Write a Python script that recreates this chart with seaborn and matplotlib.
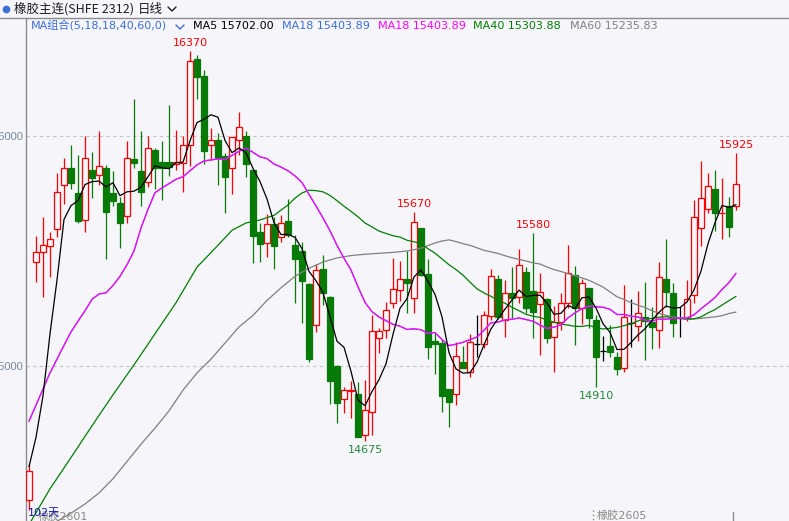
import numpy as np
import pandas as pd
import matplotlib
matplotlib.use("Agg")
import matplotlib.pyplot as plt
import seaborn as sns
from matplotlib.lines import Line2D

# daily candles, 102 days
open_ = [14417, 15451, 15494, 15522, 15596, 15786, 15861, 15751, 15633, 15851,
         15829, 15861, 15754, 15707, 15651, 15900, 15848, 15799, 15939, 15886,
         15886, 15880, 15881, 15959, 16333, 16261, 15959, 15983, 15913, 15859,
         15983, 16000, 15852, 15583, 15533, 15617, 15559, 15629, 15526, 15500,
         15357, 15177, 15420, 15300, 15000, 14855, 14893, 14878, 14700, 14799,
         15120, 15157, 15272, 15330, 15377, 15297, 15599, 15399, 15109, 15101,
         14899, 14877, 15019, 14975, 15096, 15096, 15219, 15377, 15200, 15316,
         15299, 15407, 15326, 15268, 15290, 15125, 15193, 15275, 15396, 15251,
         15338, 15200, 15065, 15087, 15038, 14990, 15186, 15175, 15212, 15193,
         15155, 15377, 15316, 15207, 15207, 15309, 15599, 15681, 15768, 15664,
         15697, 15697]
high = [14580, 15565, 15649, 15583, 15841, 15904, 15959, 15916, 15999, 15930,
        16022, 15872, 15848, 15736, 15978, 16159, 16022, 15999, 15949, 15978,
        16135, 16026, 15999, 16370, 16352, 16287, 16033, 16012, 15925, 15997,
        16104, 16023, 15855, 15623, 15661, 15649, 15657, 15725, 15570, 15541,
        15360, 15442, 15483, 15303, 15003, 14910, 14936, 14932, 14939, 15222,
        15164, 15280, 15468, 15457, 15501, 15670, 15600, 15464, 15149, 15116,
        14902, 15106, 15087, 15138, 15222, 15239, 15420, 15396, 15374, 15432,
        15507, 15432, 15580, 15403, 15295, 15262, 15316, 15526, 15436, 15377,
        15340, 15222, 15130, 15178, 15062, 15352, 15291, 15326, 15364, 15258,
        15451, 15551, 15359, 15258, 15374, 15722, 15891, 15838, 15852, 15819,
        15736, 15925]
low = [14375, 15367, 15301, 15388, 15562, 15703, 15771, 15620, 15584, 15732,
       15787, 15467, 15697, 15514, 15623, 15862, 15697, 15780, 15768, 15722,
       15826, 15852, 15758, 15870, 16159, 15878, 15896, 15788, 15667, 15746,
       15917, 15820, 15449, 15454, 15472, 15423, 15538, 15562, 15275, 15186,
       15019, 15149, 15265, 14833, 14754, 14794, 14772, 14690, 14675, 14700,
       15055, 15120, 15251, 15284, 15229, 15232, 15390, 15029, 14964, 14801,
       14736, 14830, 14990, 14954, 15041, 15077, 15200, 15203, 15128, 15207,
       15272, 15229, 15123, 15048, 15101, 14975, 15157, 15251, 15091, 15183,
       15164, 14910, 15023, 15038, 14961, 14975, 15084, 15109, 15026, 15072,
       15077, 15258, 15125, 15128, 15196, 15272, 15522, 15664, 15588, 15554,
       15562, 15678]
close = [14543, 15496, 15525, 15551, 15755, 15859, 15797, 15630, 15903, 15819,
         15871, 15671, 15719, 15623, 15903, 15884, 15758, 15946, 15859, 15862,
         15865, 15886, 15959, 16325, 16258, 15936, 15983, 15906, 15820, 15994,
         16038, 15878, 15567, 15532, 15616, 15523, 15620, 15570, 15467, 15371,
         15029, 15417, 15316, 14936, 14841, 14896, 14896, 14693, 14809, 15152,
         15151, 15243, 15333, 15377, 15359, 15625, 15396, 15084, 15094, 14870,
         14845, 15043, 14993, 15106, 15096, 15222, 15391, 15212, 15316, 15294,
         15438, 15251, 15236, 15320, 15123, 15193, 15275, 15406, 15251, 15359,
         15207, 15038, 15065, 15062, 14986, 15212, 15186, 15229, 15197, 15168,
         15388, 15320, 15188, 15207, 15290, 15649, 15729, 15783, 15664, 15667,
         15603, 15790]

# moving average values before the window is long enough
ma5_head = [14562, 14690, 14870, 15140]
ma18_head = [14760, 14830, 14900, 14970, 15030, 15090, 15148, 15195, 15240,
             15290, 15313, 15318, 15350, 15390, 15440, 15500, 15600]
ma40_head_idx = [0, 3, 6, 9, 12, 15, 18, 21, 24, 27, 29, 31, 33, 35, 37, 38]
ma40_head = [14310, 14466, 14602, 14740, 14875, 15005, 15140, 15275, 15430,
             15525, 15590, 15622, 15635, 15655, 15700, 15730]
ma60_head_idx = list(range(0, 59, 2))
ma60_head = [14250, 14290, 14325, 14360, 14400, 14448, 14510, 14585, 14660, 14730,
             14805, 14895, 14970, 15030, 15100, 15170, 15220, 15285, 15340, 15390,
             15425, 15452, 15470, 15480, 15486, 15490, 15494, 15500, 15512, 15535]

# labelled extremes: (day, price, above)
marks = [(23, 16370, True), (55, 15670, True), (72, 15580, True),
         (101, 15925, True), (48, 14675, False), (81, 14910, False)]

BG = "#f5f5fa"
RED = "#ff0000"
GREEN = "#077a07"
W, H = 789, 521

sns.set_theme(style="white")
plt.rcParams["font.family"] = ["DejaVu Sans", "Noto Sans CJK SC"]

fig = plt.figure(figsize=(W / 100, H / 100), dpi=100, facecolor=BG)
ax = fig.add_axes([26 / W, 0, (W - 26) / W, (H - 18) / H])
ax.set_facecolor(BG)

df = pd.DataFrame({"day": np.arange(len(close)), "open": open_, "high": high,
                   "low": low, "close": close})
x = df["day"].values
o, c = df["open"].values, df["close"].values
up, down, flat = c > o, c < o, c == o
wick_col = np.where(up, RED, np.where(down, GREEN, "black"))

ax.vlines(x, df["low"], df["high"], colors=wick_col, lw=0.9, zorder=2)
ax.bar(x[up], (c - o)[up], bottom=o[up], width=0.72, facecolor=BG,
       edgecolor=RED, lw=0.9, zorder=3)
ax.bar(x[down], (o - c)[down], bottom=c[down], width=0.72, color=GREEN,
       edgecolor=GREEN, lw=0.9, zorder=3)
ax.hlines(c[flat], x[flat] - 0.36, x[flat] + 0.36, colors="black", lw=0.9, zorder=3)

# moving averages
ma5 = df["close"].rolling(5).mean()
ma5.iloc[:4] = ma5_head
ma18 = df["close"].rolling(18).mean()
ma18.iloc[:17] = ma18_head
ma40 = df["close"].rolling(40).mean()
ma40.iloc[ma40_head_idx] = ma40_head
ma60 = df["close"].rolling(60).mean()
ma60.iloc[ma60_head_idx] = ma60_head

lines = pd.concat([
    pd.DataFrame({"day": x, "value": ma60, "ma": "MA60"}),
    pd.DataFrame({"day": x, "value": ma40, "ma": "MA40"}),
    pd.DataFrame({"day": x, "value": ma18, "ma": "MA18b"}),
    pd.DataFrame({"day": x, "value": ma18, "ma": "MA18"}),
    pd.DataFrame({"day": x, "value": ma5, "ma": "MA5"}),
]).dropna()
palette = {"MA60": "#808080", "MA40": "#008000", "MA18b": "#4a78e0",
           "MA18": "#ff00ff", "MA5": "black"}
sns.lineplot(data=lines, x="day", y="value", hue="ma", palette=palette,
             estimator=None, lw=0.9, legend=False, ax=ax, zorder=4)

for d, p, above in marks:
    ax.annotate(f"{p}", (d, p), xytext=(0, 2 if above else -3),
                textcoords="offset points", ha="center",
                va="bottom" if above else "top", fontsize=8,
                color=RED if above else "#1f8a3a")

for lv in [15000, 16000]:
    ax.axhline(lv, color="#c4c4c8", lw=0.8, ls=(0, (3, 3)), zorder=1)

ax.set_xlim(-3 / 7, (W - 29) / 7)
ax.set_ylim(16000 - (H - 136) / 0.23, 16000 + 118 / 0.23)
ax.set_xticks([])
ax.set_yticks([15000, 16000])
ax.set_yticklabels(["15000", "16000"], family=["Liberation Sans"])
ax.tick_params(axis="y", length=0, pad=2, labelsize=8, labelcolor="#7a8a9c")
ax.set_xlabel("")
ax.set_ylabel("")
for s in ["top", "right", "bottom"]:
    ax.spines[s].set_visible(False)
ax.spines["left"].set_color("#8c8c8c")
ax.spines["left"].set_linewidth(1)


def fx(px):
    return px / W


def fy(py):
    return 1 - py / H


# header
fig.add_artist(Line2D([0, 1], [fy(18), fy(18)], color="#8c8c8c", lw=1))
fig.add_artist(Line2D([fx(6)], [fy(9)], marker="o", ms=4.5, color="#3a6fd8"))
fig.text(fx(14), fy(9), "橡胶主连(SHFE 2312)", fontsize=9,
         family=["Noto Sans CJK SC"], color="#1e1e1e", va="center")
fig.text(fx(138), fy(9), "日线", fontsize=9, family=["Noto Sans CJK SC"],
         color="#1e1e1e", va="center")
fig.add_artist(Line2D([fx(168), fx(172), fx(176)], [fy(7), fy(11), fy(7)],
                      color="#1e1e1e", lw=1))

ma_texts = [(31, "MA组合(5,18,18,40,60,0)", "#3a6fd8"),
            (193, "MA5 15702.00", "black"),
            (282, "MA18 15403.89", "#3a6fd8"),
            (378, "MA18 15403.89", "#ff00ff"),
            (473, "MA40 15303.88", "#008000"),
            (570, "MA60 15235.83", "#808080")]
for px, t, col in ma_texts:
    fig.text(fx(px), fy(26), t, fontsize=8, color=col, va="center")
fig.add_artist(Line2D([fx(176), fx(180), fx(184)], [fy(25), fy(29), fy(25)],
                      color="#3a6fd8", lw=1))

# footer
fig.text(fx(38), fy(516), "橡胶2601", fontsize=8, color="#8c8c8c", va="center")
fig.text(fx(28), fy(513), "102天", fontsize=8, color="#1a1aa8", va="center")
fig.text(fx(597), fy(515), "橡胶2605", fontsize=8, color="#8c8c8c", va="center")
fig.add_artist(Line2D([fx(593), fx(593)], [fy(510), fy(520)], color="#8c8c8c",
                      lw=1, ls=(0, (1, 2))))
fig.add_artist(Line2D([fx(733), fx(733)], [fy(512), fy(521)], color="#8c8c8c", lw=1))

fig.savefig("out.png", dpi=100, facecolor=BG)
